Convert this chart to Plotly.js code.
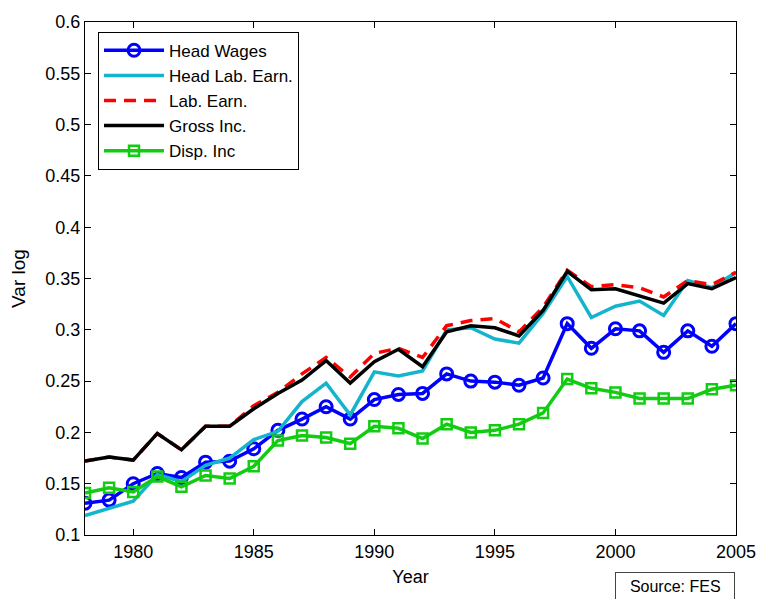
<!DOCTYPE html>
<html>
<head>
<meta charset="utf-8">
<script src="https://cdn.plot.ly/plotly-3.0.1.min.js"></script>
<style>html,body{margin:0;padding:0;background:#fff;}#chart{width:758px;height:599px;}</style>
</head>
<body>
<div id="chart"></div>
<script>
const years = [1978,1979,1980,1981,1982,1983,1984,1985,1986,1987,1988,1989,1990,1991,1992,1993,1994,1995,1996,1997,1998,1999,2000,2001,2002,2003,2004,2005];
const headWages = [0.131,0.134,0.150,0.160,0.156,0.171,0.172,0.184,0.202,0.213,0.225,0.213,0.232,0.237,0.238,0.257,0.250,0.249,0.246,0.253,0.306,0.282,0.301,0.299,0.278,0.299,0.284,0.306];
const headLabEarn = [0.119,0.126,0.133,0.159,0.152,0.168,0.175,0.193,0.201,0.230,0.248,0.217,0.259,0.255,0.260,0.300,0.302,0.291,0.287,0.316,0.352,0.312,0.323,0.328,0.314,0.348,0.341,0.356];
const labEarn = [0.172,0.176,0.173,0.199,0.183,0.206,0.206,0.226,0.239,0.257,0.273,0.254,0.277,0.282,0.273,0.304,0.309,0.311,0.298,0.322,0.358,0.342,0.344,0.341,0.332,0.348,0.344,0.356];
const grossInc = [0.172,0.176,0.173,0.199,0.183,0.206,0.206,0.223,0.238,0.251,0.270,0.248,0.269,0.281,0.264,0.298,0.304,0.302,0.294,0.319,0.357,0.339,0.340,0.333,0.326,0.345,0.340,0.351];
const dispInc = [0.141,0.146,0.142,0.157,0.147,0.158,0.155,0.167,0.192,0.197,0.195,0.189,0.206,0.204,0.194,0.208,0.200,0.202,0.208,0.219,0.252,0.243,0.239,0.233,0.233,0.233,0.242,0.246];
const xTicks = [1980,1985,1990,1995,2000,2005];
const yTicks = [0.1,0.15,0.2,0.25,0.3,0.35,0.4,0.45,0.5,0.55,0.6];
const yTickText = ['0.1','0.15','0.2','0.25','0.3','0.35','0.4','0.45','0.5','0.55','0.6'];
const seriesNames = ['Head Wages','Head Lab. Earn.','Lab. Earn.','Gross Inc.','Disp. Inc'];

const traces = [
  {x: years, y: headWages, name: seriesNames[0], mode: 'lines+markers',
   line: {color: '#0000ff', width: 3.5},
   marker: {symbol: 'circle-open', size: 12, color: '#0000ff', line: {width: 3, color: '#0000ff'}}},
  {x: years, y: headLabEarn, name: seriesNames[1], mode: 'lines',
   line: {color: '#14b4cc', width: 3.5}},
  {x: years, y: labEarn, name: seriesNames[2], mode: 'lines',
   line: {color: '#ff0000', width: 3.5, dash: '12px,8px'}},
  {x: years, y: grossInc, name: seriesNames[3], mode: 'lines',
   line: {color: '#000000', width: 3.5}},
  {x: years, y: dispInc, name: seriesNames[4], mode: 'lines+markers',
   line: {color: '#11cc11', width: 3.5},
   marker: {symbol: 'square-open', size: 10, color: '#11cc11', line: {width: 2.5, color: '#11cc11'}}}
];

const font = {family: 'Liberation Sans, Arial, sans-serif', size: 18, color: '#000'};

const layout = {
  width: 758, height: 599,
  margin: {l: 85, r: 22, t: 22, b: 64, pad: 0},
  paper_bgcolor: '#fff', plot_bgcolor: '#fff',
  font: font,
  showlegend: true,
  legend: {
    x: 0.02, y: 0.981, xanchor: 'left', yanchor: 'top',
    bgcolor: '#fff', bordercolor: '#000', borderwidth: 1,
    font: {family: font.family, size: 17, color: '#000'},
    tracegroupgap: 0, itemwidth: 60
  },
  xaxis: {
    range: [1978, 2005], tickvals: xTicks, ticktext: xTicks.map(String),
    ticks: 'inside', ticklen: 6, tickcolor: '#000', tickwidth: 1,
    showline: true, linecolor: '#000', linewidth: 1, mirror: 'ticks',
    showgrid: false, zeroline: false,
    tickfont: {size: 18},
    title: {text: 'Year', font: {size: 18}, standoff: 9}
  },
  yaxis: {
    range: [0.1, 0.6], tickvals: yTicks, ticktext: yTickText,
    ticks: 'inside', ticklen: 6, tickcolor: '#000', tickwidth: 1,
    showline: true, linecolor: '#000', linewidth: 1, mirror: 'ticks',
    showgrid: false, zeroline: false,
    tickfont: {size: 18},
    title: {text: 'Var log', font: {size: 19}, standoff: 14}
  },
  annotations: [
    {xref: 'paper', yref: 'paper', x: 0.906, y: -0.072, xanchor: 'center', yanchor: 'top',
     text: '\u00a0\u00a0Source: FES\u00a0\u00a0', showarrow: false, font: {size: 16, color: '#000'},
     bordercolor: '#444', borderwidth: 1, borderpad: 5, bgcolor: '#fff'}
  ]
};

Plotly.newPlot('chart', traces, layout, {displayModeBar: false, staticPlot: true});
</script>
</body>
</html>
